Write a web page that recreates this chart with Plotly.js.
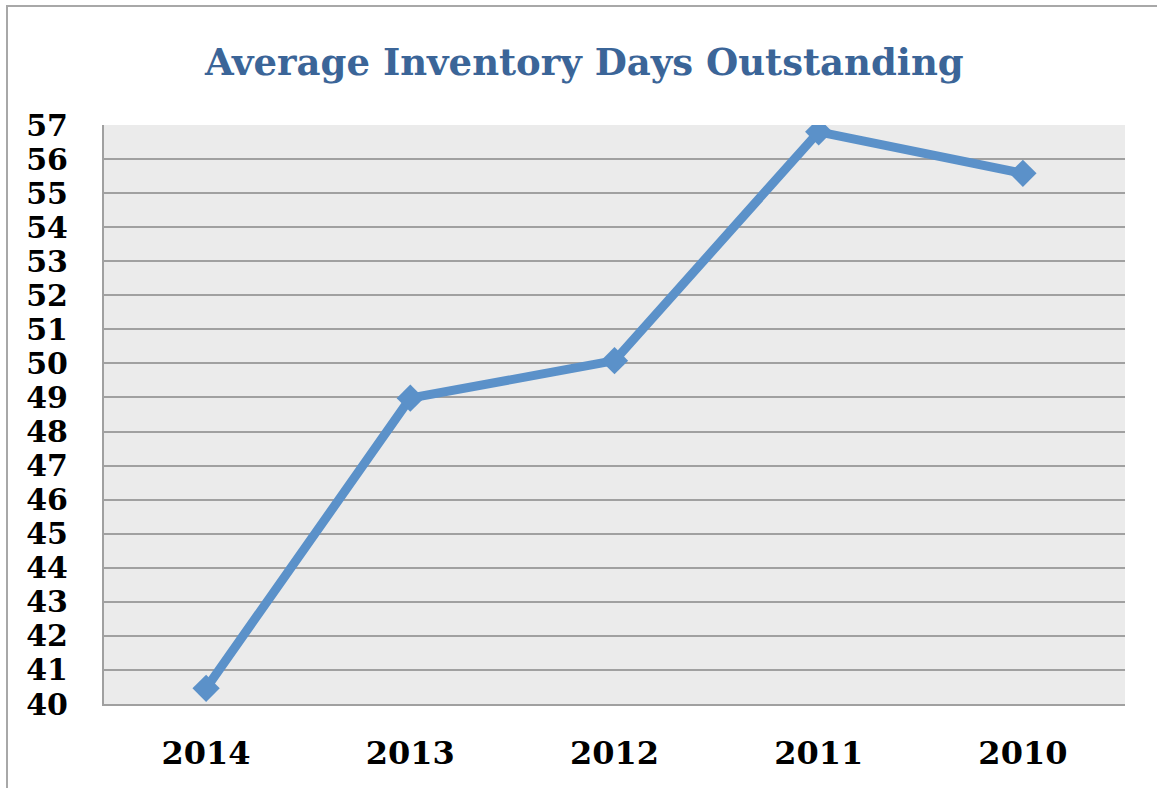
<!DOCTYPE html>
<html>
<head>
<meta charset="utf-8">
<script src="https://cdn.plot.ly/plotly-3.0.1.min.js"></script>
<style>
  html, body { margin: 0; padding: 0; background: #ffffff; }
  #plot { width: 1157px; height: 788px; }
</style>
</head>
<body>
<div id="plot"></div>
<script>
const years = ["2014", "2013", "2012", "2011", "2010"];
const inventoryDays = [40.46, 48.98, 50.08, 56.8, 55.58];
const yTicks = [40, 41, 42, 43, 44, 45, 46, 47, 48, 49, 50, 51, 52, 53, 54, 55, 56, 57];

const serif = "'DejaVu Serif', 'Liberation Serif', serif";

const trace = {
    x: years,
    y: inventoryDays,
    type: "scatter",
    mode: "lines+markers",
    line: { color: "#5B91C9", width: 9 },
    marker: { symbol: "diamond", size: 21, color: "#5B91C9" },
    hoverinfo: "x+y"
};

const layout = {
    width: 1157,
    height: 788,
    margin: { l: 104, r: 32, t: 125, b: 84 },
    paper_bgcolor: "#ffffff",
    plot_bgcolor: "#EBEBEB",
    showlegend: false,
    title: {
        text: "<b>Average Inventory Days Outstanding</b>",
        font: { family: serif, size: 37, color: "#3B6598" },
        x: 0.505,
        xanchor: "center",
        y: 1 - 62 / 788,
        yanchor: "middle"
    },
    xaxis: {
        type: "category",
        range: [-0.5, 4.5],
        showgrid: false,
        showline: true,
        linecolor: "#A0A0A0",
        linewidth: 2,
        ticks: "",
        ticklabelstandoff: 20,
        tickfont: { family: serif, size: 32, color: "#000000", weight: "bold" },
        zeroline: false,
        fixedrange: true
    },
    yaxis: {
        range: [40, 57],
        tickvals: yTicks,
        ticktext: yTicks.map(String),
        showgrid: true,
        gridcolor: "#A0A0A0",
        gridwidth: 2,
        showline: true,
        linecolor: "#A0A0A0",
        linewidth: 2,
        ticks: "",
        ticklabelstandoff: 28,
        tickfont: { family: serif, size: 30, color: "#000000", weight: "bold" },
        zeroline: false,
        fixedrange: true
    },
    shapes: [
        {
            type: "rect",
            xref: "paper",
            yref: "paper",
            x0: -97 / 1021,
            x1: 1.2,
            y0: -0.3,
            y1: 698 / 579,
            line: { color: "#A8A8A8", width: 2 },
            fillcolor: "rgba(0,0,0,0)",
            layer: "below"
        }
    ]
};

Plotly.newPlot("plot", [trace], layout, { displayModeBar: false, staticPlot: true });
</script>
</body>
</html>
